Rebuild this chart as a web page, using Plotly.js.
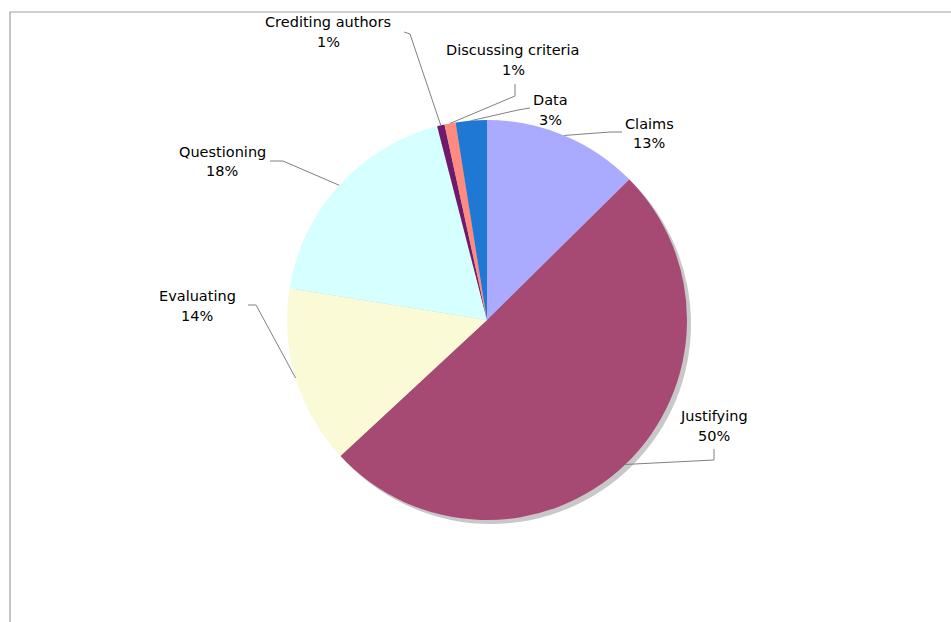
<!DOCTYPE html>
<html>
<head>
<meta charset="utf-8">
<script src="https://cdn.plot.ly/plotly-3.0.1.min.js"></script>
<style>html,body{margin:0;padding:0;background:#fff;}#chart{width:951px;height:622px;}</style>
</head>
<body>
<div id="chart"></div>
<script>
// Data
const categories = ['Claims', 'Justifying', 'Evaluating', 'Questioning', 'Crediting authors', 'Discussing criteria', 'Data'];
const values = [12.6, 50.49, 14.45, 18.45, 0.6, 0.9, 2.51];
const colors = ['#AAAAFF', '#A64A74', '#FAFAD6', '#D6FFFF', '#701A6E', '#FF8A80', '#1F78D4'];

// Layout (pixels)
const W = 951, H = 622;
const cx = 487, cy = 320, R = 200;
// label first-line centers
const labelPos = [[649,124],[714,416],[197,296],[222,152],[328,22],[513,50],[550,100]];
// leader line: point near label, elbow point
const leaderEnd = [[622,132],[714,449],[248,305],[270,161],[404,32],[515,84],[530,108]];
const leaderElbow = [[610,132],[714,460],[256,305],[283,161],[410,34],[515,96],[518,110]];

const px = x => x / W;
const py = y => 1 - y / H;

const total = values.reduce((a, b) => a + b, 0);
const shapes = [];
const annotations = [];

// frame
shapes.push({type:'rect', xref:'paper', yref:'paper', x0:px(10), x1:1.02, y0:-0.02, y1:py(12),
  line:{color:'#a0a0a0', width:1.2}, fillcolor:'rgba(0,0,0,0)', layer:'below'});
// shadow
shapes.push({type:'circle', xref:'paper', yref:'paper', x0:px(cx-R+4), x1:px(cx+R+4), y0:py(cy+R+4), y1:py(cy-R+4),
  line:{width:0}, fillcolor:'#c8c8c8', layer:'below'});

let cum = 0;
values.forEach((v, i) => {
  const mid = (cum + v / 2) / total * 2 * Math.PI;
  cum += v;
  const ax = cx + R * Math.sin(mid), ay = cy - R * Math.cos(mid);
  const el = leaderElbow[i], en = leaderEnd[i];
  shapes.push({type:'path', xref:'paper', yref:'paper',
    path:`M ${px(ax)} ${py(ay)} L ${px(el[0])} ${py(el[1])} L ${px(en[0])} ${py(en[1])}`,
    line:{color:'#808080', width:1}});
  const pct = Math.round(v / total * 100) + '%';
  annotations.push({xref:'paper', yref:'paper', x:px(labelPos[i][0]), y:py(labelPos[i][1]),
    text:categories[i], showarrow:false, xanchor:'center', yanchor:'middle'});
  annotations.push({xref:'paper', yref:'paper', x:px(labelPos[i][0]), y:py(labelPos[i][1] + 19.5),
    text:pct, showarrow:false, xanchor:'center', yanchor:'middle'});
});

const trace = {
  type:'pie', labels:categories, values:values, sort:false, direction:'clockwise', rotation:0,
  marker:{colors:colors, line:{width:0}}, textinfo:'none', hoverinfo:'label+percent',
  domain:{x:[px(cx-R), px(cx+R)], y:[py(cy+R), py(cy-R)]}, showlegend:false
};

const layout = {
  width:W, height:H, margin:{l:0, r:0, t:0, b:0},
  paper_bgcolor:'#ffffff', showlegend:false,
  font:{family:'DejaVu Sans, Verdana, sans-serif', size:14.5, color:'#000000'},
  shapes:shapes, annotations:annotations
};

Plotly.newPlot('chart', [trace], layout, {displayModeBar:false, staticPlot:true});
</script>
</body>
</html>
